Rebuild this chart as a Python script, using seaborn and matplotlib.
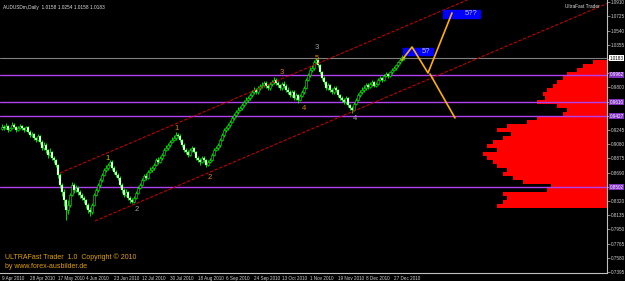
import matplotlib
matplotlib.use("Agg")
import matplotlib.pyplot as plt
import matplotlib.transforms as mtransforms
import numpy as np
import pandas as pd
import seaborn as sns

# ---------------- data ----------------
first_open = 0.9260
closes = [
    0.9284, 0.9271, 0.9297, 0.9245, 0.9271, 0.9310, 0.9284, 0.9245, 0.9271, 0.9297,
    0.9271, 0.9245, 0.9284, 0.9219, 0.9180, 0.9193, 0.9141, 0.9115, 0.9167, 0.9089,
    0.9011, 0.9050, 0.8985, 0.8920, 0.8959, 0.8881, 0.8855, 0.8789, 0.8659, 0.8529,
    0.8438, 0.8333, 0.8203, 0.8268, 0.8399, 0.8529, 0.8464, 0.8490, 0.8438, 0.8399,
    0.8359, 0.8333, 0.8268, 0.8203, 0.8177, 0.8268, 0.8399, 0.8464, 0.8529, 0.8594,
    0.8659, 0.8724, 0.8750, 0.8789, 0.8828, 0.8750, 0.8698, 0.8659, 0.8620, 0.8529,
    0.8464, 0.8399, 0.8438, 0.8359, 0.8333, 0.8307, 0.8359, 0.8425, 0.8490, 0.8529,
    0.8594, 0.8646, 0.8620, 0.8698, 0.8724, 0.8750, 0.8789, 0.8855, 0.8829, 0.8881,
    0.8920, 0.8985, 0.9011, 0.9050, 0.9089, 0.9115, 0.9141, 0.9180, 0.9167, 0.9115,
    0.9050, 0.8985, 0.8959, 0.8920, 0.8985, 0.9011, 0.8959, 0.8881, 0.8855, 0.8828,
    0.8881, 0.8855, 0.8789, 0.8828, 0.8855, 0.8920, 0.8985, 0.9011, 0.9050, 0.9115,
    0.9180, 0.9245, 0.9271, 0.9310, 0.9350, 0.9402, 0.9441, 0.9480, 0.9506, 0.9532,
    0.9571, 0.9610, 0.9636, 0.9662, 0.9701, 0.9740, 0.9766, 0.9740, 0.9792, 0.9819,
    0.9832, 0.9858, 0.9819, 0.9792, 0.9845, 0.9871, 0.9897, 0.9858, 0.9832, 0.9792,
    0.9845, 0.9819, 0.9766, 0.9740, 0.9701, 0.9740, 0.9662, 0.9701, 0.9636, 0.9688,
    0.9740, 0.9792, 0.9897, 0.9962, 1.0027, 1.0053, 1.0131, 1.0157, 1.0092, 1.0001,
    0.9923, 0.9871, 0.9792, 0.9832, 0.9766, 0.9740, 0.9792, 0.9766, 0.9701, 0.9662,
    0.9636, 0.9610, 0.9662, 0.9571, 0.9532, 0.9506, 0.9584, 0.9636, 0.9701, 0.9740,
    0.9766, 0.9792, 0.9832, 0.9806, 0.9845, 0.9871, 0.9819, 0.9845, 0.9897, 0.9923,
    0.9897, 0.9949, 0.9975, 0.9949, 1.0001, 1.0027, 1.0053, 1.0092, 1.0131, 1.0157,
    1.0196, 1.0183,
]
highs = [
    0.9320, 0.9310, 0.9330, 0.9315, 0.9290, 0.9345, 0.9330, 0.9300, 0.9295, 0.9320,
    0.9310, 0.9285, 0.9300, 0.9295, 0.9240, 0.9225, 0.9210, 0.9160, 0.9190, 0.9175,
    0.9110, 0.9085, 0.9070, 0.9000, 0.9010, 0.8975, 0.8910, 0.8870, 0.8800, 0.8680,
    0.8560, 0.8470, 0.8350, 0.8330, 0.8430, 0.8570, 0.8560, 0.8530, 0.8510, 0.8460,
    0.8430, 0.8390, 0.8350, 0.8290, 0.8240, 0.8290, 0.8420, 0.8490, 0.8560, 0.8620,
    0.8690, 0.8750, 0.8790, 0.8820, 0.8860, 0.8850, 0.8780, 0.8720, 0.8690, 0.8640,
    0.8550, 0.8490, 0.8470, 0.8450, 0.8380, 0.8360, 0.8380, 0.8450, 0.8510, 0.8560,
    0.8620, 0.8670, 0.8680, 0.8720, 0.8760, 0.8780, 0.8820, 0.8880, 0.8890, 0.8910,
    0.8950, 0.9010, 0.9050, 0.9080, 0.9120, 0.9150, 0.9180, 0.9220, 0.9210, 0.9190,
    0.9130, 0.9070, 0.9010, 0.8980, 0.9010, 0.9040, 0.9030, 0.8970, 0.8900, 0.8880,
    0.8900, 0.8910, 0.8870, 0.8850, 0.8880, 0.8940, 0.9010, 0.9040, 0.9080, 0.9140,
    0.9200, 0.9270, 0.9300, 0.9340, 0.9380, 0.9430, 0.9470, 0.9510, 0.9540, 0.9560,
    0.9600, 0.9640, 0.9670, 0.9690, 0.9730, 0.9770, 0.9800, 0.9790, 0.9820, 0.9850,
    0.9870, 0.9890, 0.9880, 0.9840, 0.9870, 0.9900, 0.9930, 0.9920, 0.9880, 0.9850,
    0.9870, 0.9880, 0.9840, 0.9800, 0.9760, 0.9770, 0.9760, 0.9730, 0.9720, 0.9710,
    0.9770, 0.9820, 0.9920, 0.9990, 1.0060, 1.0090, 1.0160, 1.0185, 1.0170, 1.0110,
    1.0020, 0.9950, 0.9890, 0.9860, 0.9850, 0.9790, 0.9820, 0.9820, 0.9780, 0.9720,
    0.9690, 0.9660, 0.9690, 0.9680, 0.9590, 0.9560, 0.9610, 0.9660, 0.9730, 0.9770,
    0.9800, 0.9830, 0.9860, 0.9860, 0.9870, 0.9900, 0.9890, 0.9870, 0.9920, 0.9950,
    0.9940, 0.9970, 1.0000, 0.9990, 1.0020, 1.0050, 1.0080, 1.0110, 1.0150, 1.0180,
    1.0220, 1.0254,
]
lows = [
    0.9240, 0.9245, 0.9255, 0.9225, 0.9230, 0.9260, 0.9270, 0.9215, 0.9230, 0.9260,
    0.9250, 0.9220, 0.9235, 0.9200, 0.9150, 0.9160, 0.9120, 0.9085, 0.9100, 0.9060,
    0.8980, 0.8990, 0.8950, 0.8880, 0.8900, 0.8850, 0.8820, 0.8760, 0.8620, 0.8490,
    0.8380, 0.8250, 0.8070, 0.8150, 0.8240, 0.8380, 0.8430, 0.8440, 0.8400, 0.8360,
    0.8330, 0.8290, 0.8230, 0.8160, 0.8120, 0.8150, 0.8250, 0.8380, 0.8440, 0.8500,
    0.8570, 0.8640, 0.8700, 0.8720, 0.8770, 0.8730, 0.8670, 0.8630, 0.8590, 0.8500,
    0.8430, 0.8370, 0.8380, 0.8330, 0.8300, 0.8290, 0.8300, 0.8340, 0.8410, 0.8470,
    0.8510, 0.8580, 0.8600, 0.8610, 0.8680, 0.8700, 0.8730, 0.8770, 0.8800, 0.8810,
    0.8860, 0.8900, 0.8970, 0.8990, 0.9030, 0.9070, 0.9100, 0.9120, 0.9140, 0.9090,
    0.9020, 0.8960, 0.8930, 0.8890, 0.8900, 0.8960, 0.8940, 0.8860, 0.8830, 0.8790,
    0.8810, 0.8830, 0.8760, 0.8770, 0.8810, 0.8840, 0.8900, 0.8970, 0.8990, 0.9030,
    0.9100, 0.9160, 0.9220, 0.9250, 0.9290, 0.9330, 0.9380, 0.9420, 0.9460, 0.9490,
    0.9510, 0.9550, 0.9590, 0.9610, 0.9640, 0.9680, 0.9720, 0.9710, 0.9720, 0.9770,
    0.9790, 0.9810, 0.9790, 0.9760, 0.9770, 0.9820, 0.9850, 0.9830, 0.9800, 0.9760,
    0.9770, 0.9790, 0.9740, 0.9710, 0.9670, 0.9680, 0.9640, 0.9630, 0.9600, 0.9620,
    0.9670, 0.9720, 0.9780, 0.9880, 0.9940, 1.0000, 1.0030, 1.0100, 1.0070, 0.9970,
    0.9900, 0.9840, 0.9770, 0.9770, 0.9740, 0.9710, 0.9720, 0.9740, 0.9680, 0.9640,
    0.9610, 0.9580, 0.9590, 0.9550, 0.9500, 0.9470, 0.9490, 0.9570, 0.9620, 0.9680,
    0.9720, 0.9740, 0.9770, 0.9780, 0.9790, 0.9820, 0.9800, 0.9800, 0.9830, 0.9880,
    0.9870, 0.9880, 0.9930, 0.9920, 0.9930, 0.9980, 1.0010, 1.0030, 1.0070, 1.0110,
    1.0140, 1.0158,
]

date_labels = ["9 Apr 2010", "28 Apr 2010", "17 May 2010", "4 Jun 2010", "23 Jun 2010",
               "12 Jul 2010", "30 Jul 2010", "18 Aug 2010", "6 Sep 2010", "24 Sep 2010",
               "13 Oct 2010", "1 Nov 2010", "19 Nov 2010", "8 Dec 2010", "27 Dec 2010"]
date_label_bars = [0, 14, 28, 42, 56, 70, 84, 98, 112, 126, 140, 154, 168, 182, 196]

price_ticks = [0.7395, 0.7580, 0.7765, 0.7950, 0.8135, 0.8320, 0.8505, 0.8690, 0.8875,
               0.9060, 0.9245, 0.9430, 0.9615, 0.9800, 0.9985, 1.0170, 1.0355, 1.0540,
               1.0725, 1.0910]

level_prices = [0.9962, 0.9610, 0.9427, 0.8502]
current_price = 1.0183

# channel lines (bar index, price)
upper_channel_x = [29, 249]
upper_channel_y = [0.8685, 1.1121]
lower_channel_x = [46.5, 302.5]
lower_channel_y = [0.8060, 1.0893]

# projected wave paths
wave_a_x = [200, 205, 213, 225]
wave_a_y = [1.0157, 1.0327, 0.9988, 1.0770]
wave_b_x = [214, 226.5]
wave_b_y = [0.9975, 0.9402]

# wave labels
wave_text = ["1", "2", "1", "2", "3", "4", "3", "5", "4"]
wave_text_x = [53, 67.5, 87.5, 104, 140, 151, 157.5, 157.5, 176.5]
wave_text_y = [0.8870, 0.8215, 0.9260, 0.8630, 1.0000, 0.9530, 1.0320, 1.0180, 0.9390]
wave_text_color = ["#C8C800", "#A0A0A0", "#E08000", "#E08000", "#E08000", "#E08000",
                   "#A0A0A0", "#E08000", "#A0A0A0"]

# volume profile (price level centre, width in bars)
profile_prices = [1.0131, 1.0079, 1.0027, 0.9975, 0.9923, 0.9871, 0.9819, 0.9766,
                  0.9714, 0.9662, 0.9610, 0.9558, 0.9506, 0.9454, 0.9402, 0.9349,
                  0.9297, 0.9245, 0.9193, 0.9141, 0.9089, 0.9037, 0.8985, 0.8933,
                  0.8881, 0.8828, 0.8776, 0.8724, 0.8672, 0.8620, 0.8568, 0.8516,
                  0.8464, 0.8412, 0.8359, 0.8307, 0.8255]
profile_widths = [7, 12, 15, 20, 22, 25, 27, 30, 32, 31, 35, 25, 20, 22, 35,
                  40, 50, 55, 48, 52, 57, 60, 55, 62, 60, 57, 55, 50, 52, 47,
                  42, 28, 30, 52, 50, 52, 55]

# ---------------- style ----------------
sns.set_style("dark", {"axes.facecolor": "black", "figure.facecolor": "black",
                       "axes.edgecolor": "#C0C0C0", "axes.grid": False})
plt.rcParams["font.family"] = ["Liberation Sans", "DejaVu Sans"]

W, H = 625, 281
fig = plt.figure(figsize=(W / 100, H / 100), dpi=100, facecolor="black")
ax = fig.add_axes([0, 8 / H, 607 / W, 273 / H])
ax.set_facecolor("black")
ax.set_xlim(-1, 302.5)
ax.set_ylim(0.7382, 1.0939)

n = len(closes)
opens = [first_open] + closes[:-1]
df = pd.DataFrame({"bar": np.arange(n), "open": opens, "high": highs,
                   "low": lows, "close": closes})

# volume profile behind the price
xr = ax.get_xlim()[1]
pw = np.array(profile_widths, dtype=float)
ax.barh(profile_prices, pw, left=xr - pw, height=0.0053, color="#FF0000",
        linewidth=0, zorder=1)

# horizontal levels
for lv in level_prices:
    ax.axhline(lv, color="#B040F0", lw=1.0, zorder=2)
ax.axhline(current_price, color="#808080", lw=0.8, zorder=2)

# candles
ax.vlines(df["bar"], df["low"], df["high"], color="#00FF00", lw=0.6, zorder=3)
up = df[df["close"] >= df["open"]]
dn = df[df["close"] < df["open"]]
ax.bar(up["bar"], up["close"] - up["open"], bottom=up["open"], width=0.7,
       color="black", edgecolor="#00FF00", linewidth=0.4, zorder=4)
ax.bar(dn["bar"], dn["open"] - dn["close"], bottom=dn["close"], width=0.7,
       color="white", edgecolor="#00FF00", linewidth=0.2, zorder=4)

# channels
sns.lineplot(x=upper_channel_x, y=upper_channel_y, ax=ax, color="#C00000", lw=0.8,
             linestyle=(0, (3, 1.5)), zorder=5)
sns.lineplot(x=lower_channel_x, y=lower_channel_y, ax=ax, color="#C00000", lw=0.8,
             linestyle=(0, (3, 1.5)), zorder=5)

# projection paths
sns.lineplot(x=wave_a_x, y=wave_a_y, ax=ax, color="#FFB000", lw=1.2, sort=False,
             estimator=None, zorder=6)
sns.lineplot(x=wave_b_x, y=wave_b_y, ax=ax, color="#FFB000", lw=1.2, sort=False,
             estimator=None, zorder=6)

# target boxes
ax.add_patch(plt.Rectangle((200.5, 1.0222), 15, 0.0092, color="#0000FF", zorder=5))
ax.text(214, 1.0268, "5?", color="#C0C0FF", fontsize=5.5, ha="right", va="center", zorder=7)
ax.add_patch(plt.Rectangle((220.5, 1.0704), 18.5, 0.0105, color="#0000FF", zorder=5))
ax.text(237.5, 1.0757, "5??", color="#C0C0FF", fontsize=5.5, ha="right", va="center", zorder=7)

# wave labels
for t, x, y, c in zip(wave_text, wave_text_x, wave_text_y, wave_text_color):
    ax.text(x, y, t, color=c, fontsize=5.5, ha="center", va="center", zorder=7)

# axes / ticks
for s in ["top", "left"]:
    ax.spines[s].set_visible(False)
ax.spines["right"].set_color("#C0C0C0")
ax.spines["bottom"].set_color("#C0C0C0")
ax.spines["right"].set_linewidth(0.8)
ax.spines["bottom"].set_linewidth(0.8)
ax.yaxis.tick_right()
ax.set_yticks(price_ticks)
boxed = level_prices + [current_price]
tick_text = ["" if min(abs(p - b) for b in boxed) < 0.006 else f"{p:.4f}"
             for p in price_ticks]
ax.set_yticklabels(tick_text, fontsize=3.3, color="#D0D0D0")
ax.tick_params(axis="y", length=2, width=0.5, color="#C0C0C0", pad=0.8)
ax.set_xticks(date_label_bars)
ax.set_xticklabels(date_labels, fontsize=3.3, color="#D0D0D0", ha="left")
ax.tick_params(axis="x", length=2, width=0.5, color="#C0C0C0", pad=0.3)

# right-axis highlighted labels
tr = mtransforms.blended_transform_factory(ax.transAxes, ax.transData)
for lv in level_prices:
    ax.text(1.004, lv, f"{lv:.4f}", transform=tr, fontsize=3.3, color="white",
            va="center", ha="left", clip_on=False, zorder=10,
            bbox=dict(boxstyle="square,pad=0.1", fc="#8030C0", ec="none"))
ax.text(1.004, current_price, f"{current_price:.4f}", transform=tr, fontsize=3.3,
        color="black", va="center", ha="left", clip_on=False, zorder=10,
        bbox=dict(boxstyle="square,pad=0.1", fc="white", ec="none"))

# header / footer texts
fig.text(3 / W, 1 - 7 / H, "AUDUSDm,Daily  1.0158 1.0254 1.0158 1.0183", fontsize=3.4,
         color="#E0E0E0", va="center", ha="left")
fig.text(600 / W, 1 - 7 / H, "UltraFast Trader", fontsize=3.4, color="#E0E0E0",
         va="center", ha="right")
fig.text(5 / W, 1 - 257 / H, "ULTRAFast Trader  1.0  Copyright \u00a9 2010", fontsize=5.0,
         color="#E0A000", va="center", ha="left")
fig.text(5 / W, 1 - 267 / H, "by www.forex-ausbilder.de", fontsize=5.0,
         color="#E0A000", va="center", ha="left")

fig.savefig("out.png", dpi=100, facecolor="black")
